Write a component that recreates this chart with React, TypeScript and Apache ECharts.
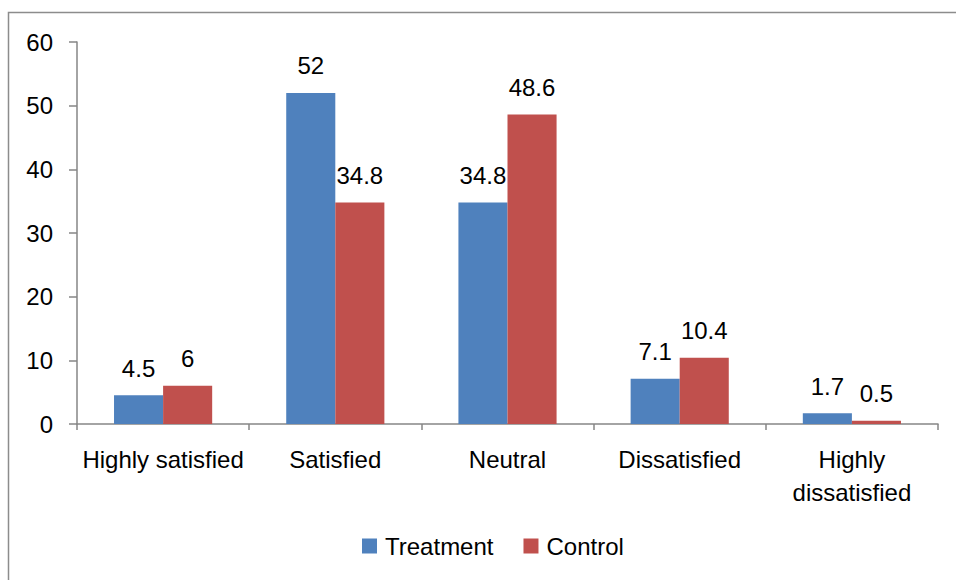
import React, { useEffect, useRef } from "react";
import * as echarts from "echarts";

const categories = [
  "Highly satisfied",
  "Satisfied",
  "Neutral",
  "Dissatisfied",
  "Highly dissatisfied",
];
const treatment = [4.5, 52, 34.8, 7.1, 1.7];
const control = [6, 34.8, 48.6, 10.4, 0.5];
const seriesNames = ["Treatment", "Control"];

const FONT = "Liberation Sans, Arial, sans-serif";
const AXIS_GRAY = "#868686";
const FS = 24;

export default function App() {
  const ref = useRef<HTMLDivElement>(null);

  useEffect(() => {
    if (!ref.current) return;
    const chart = echarts.init(ref.current, null, { renderer: "svg" });
    const labelStyle = {
      show: true,
      position: "top" as const,
      distance: 15,
      color: "#000",
      fontSize: FS,
      fontFamily: FONT,
    };
    chart.setOption({
      animation: false,
      backgroundColor: "#fff",
      textStyle: { fontFamily: FONT },
      graphic: [
        {
          type: "rect",
          shape: { x: 8.5, y: 12.5, width: 1200, height: 1200 },
          style: { fill: "none", stroke: "#8c8c8c", lineWidth: 1.5 },
          silent: true,
        },
      ],
      grid: { left: 77, right: 18, top: 42, bottom: 156 },
      legend: {
        data: seriesNames,
        bottom: 17,
        left: 357,
        itemWidth: 15,
        itemHeight: 15,
        itemGap: 30,
        icon: "rect",
        textStyle: { fontSize: FS, color: "#000", fontFamily: FONT, padding: [0, 0, 0, 3] },
      },
      xAxis: {
        type: "category",
        data: categories,
        axisLine: { lineStyle: { color: AXIS_GRAY, width: 1.5 } },
        axisTick: { show: true, length: 6, lineStyle: { color: AXIS_GRAY, width: 1.5 } },
        axisLabel: {
          color: "#000",
          fontSize: FS,
          fontFamily: FONT,
          margin: 19,
          lineHeight: 33,
          interval: 0,
          formatter: (v: string) => (v.length > 16 ? v.replace(" ", "\n") : v),
        },
      },
      yAxis: {
        type: "value",
        min: 0,
        max: 60,
        interval: 10,
        axisLine: { show: true, lineStyle: { color: AXIS_GRAY, width: 1.5 } },
        axisTick: { show: true, length: 8, lineStyle: { color: AXIS_GRAY, width: 1.5 } },
        splitLine: { show: false },
        axisLabel: { color: "#000", fontSize: FS, fontFamily: FONT, margin: 24 },
      },
      series: [
        {
          name: seriesNames[0],
          type: "bar",
          data: treatment,
          barGap: "0%",
          barCategoryGap: "43%",
          itemStyle: { color: "#4F81BD" },
          label: labelStyle,
        },
        {
          name: seriesNames[1],
          type: "bar",
          data: control,
          barGap: "0%",
          barCategoryGap: "43%",
          itemStyle: { color: "#C0504D" },
          label: labelStyle,
        },
      ],
    });
    return () => chart.dispose();
  }, []);

  return (
    <div
      ref={ref}
      style={{ position: "absolute", left: 0, top: 0, width: 956, height: 580 }}
    />
  );
}
